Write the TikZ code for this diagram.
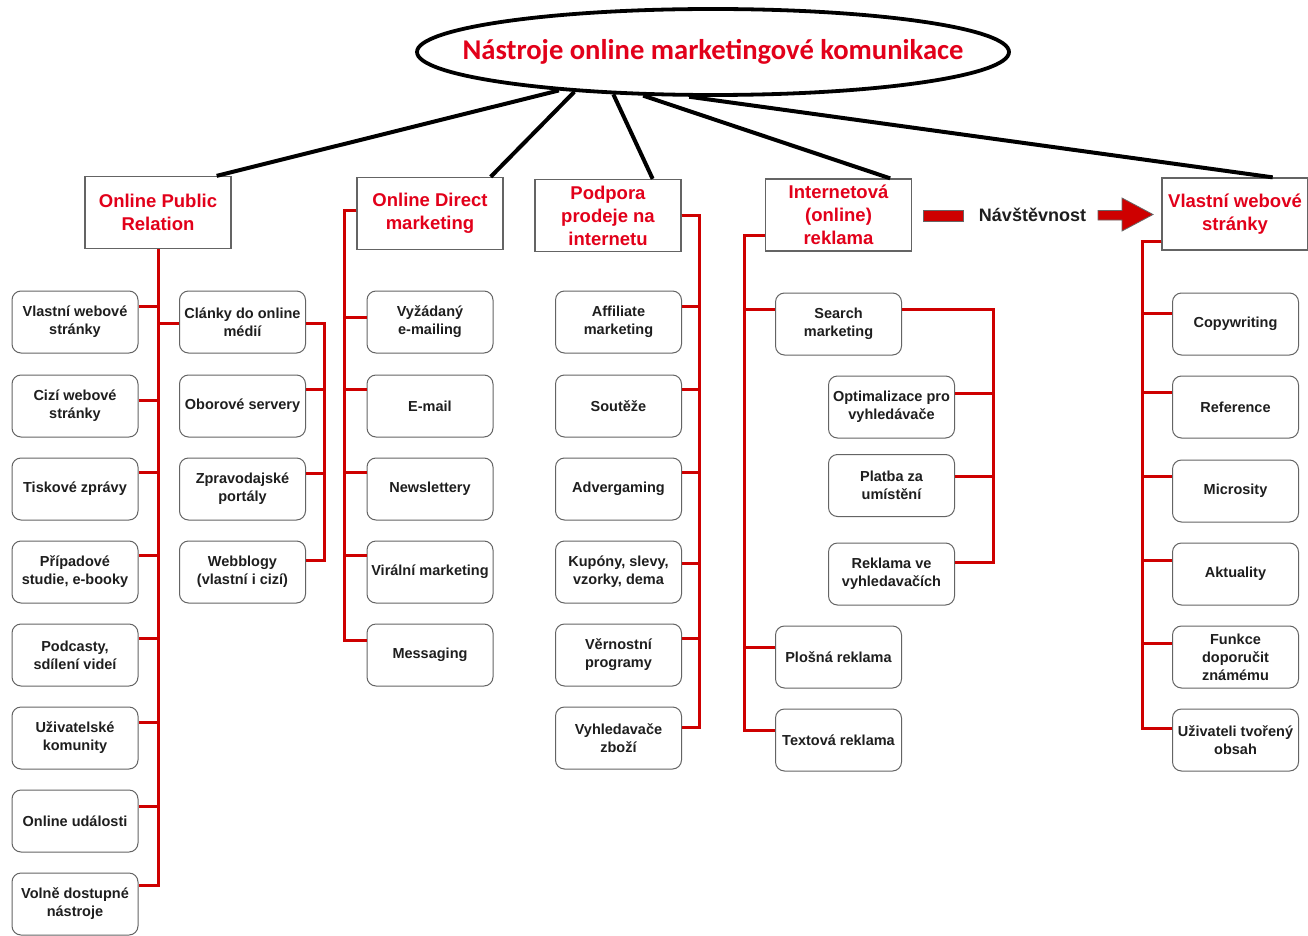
\documentclass[tikz,border=0pt]{standalone}
\usepackage{fontspec}
\setmainfont{Liberation Sans}
\newfontfamily\titlefont{Carlito}
\usetikzlibrary{shapes.geometric,calc}
\definecolor{hred}{RGB}{226,0,26}
\definecolor{lred}{RGB}{206,0,0}
\definecolor{bord}{RGB}{100,100,100}
\definecolor{txt}{RGB}{30,30,30}
\begin{document}
\begin{tikzpicture}[x=1pt,y=-1pt,
  hdr/.style={draw=bord, line width=1.3pt, minimum width=146pt, minimum height=72pt, inner sep=0pt, align=center, text=hred, font=\fontsize{18.5}{23}\selectfont\bfseries},
  item/.style={draw=bord, line width=1pt, rounded corners=9pt, minimum width=126pt, minimum height=62pt, inner sep=1pt, align=center, text=txt, font=\fontsize{14.5}{18}\selectfont\bfseries},
  blk/.style={line width=4pt, black},
  rl/.style={line width=3pt, lred},
  arrowfill/.style={draw=black!60, fill=lred, line width=0.8pt},
]
\useasboundingbox[fill=white] (0,0) rectangle (1308,936);

% title
\node[draw, line width=3.8pt, ellipse, minimum width=592pt, minimum height=86pt, inner sep=0pt, text=hred, font=\titlefont\fontsize{28.6}{30}\selectfont\bfseries] (title) at (713,52) {\makebox[0pt]{Nástroje online marketingové komunikace}};

% headers
\node[hdr] (opr) at (158,212.5) {Online Public\\Relation};
\node[hdr] (odm) at (430,213.5) {Online Direct\\marketing};
\node[hdr] (pp) at (608,215.5) {Podpora\\prodeje na\\internetu};
\node[hdr] (ir) at (838.5,215) {Internetová\\(online)\\reklama};
\node[hdr] (vw) at (1235,214) {Vlastní webové\\stránky};

\draw[blk] (title.194) -- ([xshift=-15pt]opr.north east);
\draw[blk] (title.196) -- ([xshift=-13pt]odm.north east);
\draw[blk] (title.203) -- ([xshift=-29pt]pp.north east);
\draw[blk] (title.212) -- ([xshift=-22pt]ir.north east);
\draw[blk] (title.242) -- ([xshift=-36pt]vw.north east);

% Online Public Relation
\node[item] (a1) at (75,322) {Vlastní webové\\stránky};
\node[item] (a2) at (75,406) {Cizí webové\\stránky};
\node[item] (a3) at (75,489) {Tiskové zprávy};
\node[item] (a4) at (75,572) {Případové\\studie, e-booky};
\node[item] (a5) at (75,655) {Podcasty,\\sdílení videí};
\node[item] (a6) at (75,738) {Uživatelské\\komunity};
\node[item] (a7) at (75,821) {Online události};
\node[item] (a8) at (75,904) {Volně dostupné\\nástroje};
\node[item] (b1) at (242.5,322) {Clánky do online\\médií};
\node[item] (b2) at (242.5,406) {Oborové servery};
\node[item] (b3) at (242.5,489) {Zpravodajské\\portály};
\node[item] (b4) at (242.5,572) {Webblogy\\(vlastní i cizí)};

\draw[rl] (opr.south) |- ([yshift=16pt]a1.east);
\draw[rl] (opr.south) |- ([yshift=6pt]a2.east);
\draw[rl] (opr.south) |- ([yshift=17pt]a3.east);
\draw[rl] (opr.south) |- ([yshift=17pt]a4.east);
\draw[rl] (opr.south) |- ([yshift=17pt]a5.east);
\draw[rl] (opr.south) |- ([yshift=16pt]a6.east);
\draw[rl] (opr.south) |- ([yshift=15pt]a7.east);
\draw[rl] (opr.south) |- ([yshift=19pt]a8.east);
\draw[rl] (opr.south) |- ([yshift=-1pt]b1.west);
\draw[rl] ([yshift=-1pt]b1.east) -- ++(18,0) |- ([yshift=17pt]b2.east);
\draw[rl] ([yshift=-1pt]b1.east) -- ++(18,0) |- ([yshift=16pt]b3.east);
\draw[rl] ([yshift=-1pt]b1.east) -- ++(18,0) |- ([yshift=12pt]b4.east);

% Online Direct marketing
\node[item] (d1) at (430,322) {Vyžádaný\\e-mailing};
\node[item] (d2) at (430,406) {E-mail};
\node[item] (d3) at (430,489) {Newslettery};
\node[item] (d4) at (430,572) {Virální marketing};
\node[item] (d5) at (430,655) {Messaging};
\draw[rl] ([yshift=3pt]odm.west) -- ++(-12,0) |- ([yshift=5pt]d1.west);
\draw[rl] ([yshift=3pt]odm.west) -- ++(-12,0) |- ([yshift=17pt]d2.west);
\draw[rl] ([yshift=3pt]odm.west) -- ++(-12,0) |- ([yshift=17pt]d3.west);
\draw[rl] ([yshift=3pt]odm.west) -- ++(-12,0) |- ([yshift=17pt]d4.west);
\draw[rl] ([yshift=3pt]odm.west) -- ++(-12,0) |- ([yshift=15pt]d5.west);

% Podpora prodeje na internetu
\node[item] (p1) at (618.5,322) {Affiliate\\marketing};
\node[item] (p2) at (618.5,406) {Soutěže};
\node[item] (p3) at (618.5,489) {Advergaming};
\node[item] (p4) at (618.5,572) {Kupóny, slevy,\\vzorky, dema};
\node[item] (p5) at (618.5,655) {Věrnostní\\programy};
\node[item] (p6) at (618.5,738) {Vyhledavače\\zboží};
\draw[rl] (pp.east) -- ++(18,0) |- ([yshift=16pt]p1.east);
\draw[rl] (pp.east) -- ++(18,0) |- ([yshift=17pt]p2.east);
\draw[rl] (pp.east) -- ++(18,0) |- ([yshift=17pt]p3.east);
\draw[rl] (pp.east) -- ++(18,0) |- ([yshift=9pt]p4.east);
\draw[rl] (pp.east) -- ++(18,0) |- ([yshift=17pt]p5.east);
\draw[rl] (pp.east) -- ++(18,0) |- ([yshift=11pt]p6.east);

% Internetova reklama
\node[item] (s1) at (838.5,324) {Search\\marketing};
\node[item] (o1) at (891.5,407) {Optimalizace pro\\vyhledávače};
\node[item] (o2) at (891.5,485.5) {Platba za\\umístění};
\node[item] (o3) at (891.5,574) {Reklama ve\\vyhledavačích};
\node[item] (s2) at (838.5,657) {Plošná reklama};
\node[item] (s3) at (838.5,740) {Textová reklama};
\draw[rl] ([yshift=-20pt]ir.west) -- ++(-20,0) |- ([yshift=15pt]s1.west);
\draw[rl] ([yshift=-20pt]ir.west) -- ++(-20,0) |- ([yshift=10pt]s2.west);
\draw[rl] ([yshift=-20pt]ir.west) -- ++(-20,0) |- ([yshift=10pt]s3.west);
\draw[rl] ([yshift=15pt]s1.east) -- ++(91,0) |- ([yshift=14pt]o1.east);
\draw[rl] ([yshift=15pt]s1.east) -- ++(91,0) |- ([yshift=9pt]o2.east);
\draw[rl] ([yshift=15pt]s1.east) -- ++(91,0) |- ([yshift=12pt]o3.east);

% Vlastni webove stranky
\node[item] (v1) at (1235.5,324) {Copywriting};
\node[item] (v2) at (1235.5,407) {Reference};
\node[item] (v3) at (1235.5,491) {Microsity};
\node[item] (v4) at (1235.5,574) {Aktuality};
\node[item] (v5) at (1235.5,657) {Funkce\\doporučit\\známému};
\node[item] (v6) at (1235.5,740) {Uživateli tvořený\\obsah};
\draw[rl] ([yshift=-27pt]vw.west) -- ++(-19,0) |- ([yshift=11pt]v1.west);
\draw[rl] ([yshift=-27pt]vw.west) -- ++(-19,0) |- ([yshift=15pt]v2.west);
\draw[rl] ([yshift=-27pt]vw.west) -- ++(-19,0) |- ([yshift=15pt]v3.west);
\draw[rl] ([yshift=-27pt]vw.west) -- ++(-19,0) |- ([yshift=14pt]v4.west);
\draw[rl] ([yshift=-27pt]vw.west) -- ++(-19,0) |- ([yshift=14pt]v5.west);
\draw[rl] ([yshift=-27pt]vw.west) -- ++(-19,0) |- ([yshift=12pt]v6.west);

% Navstevnost arrow
\node[arrowfill, minimum width=40pt, minimum height=11pt, inner sep=0pt] (bar) at (943,215.5) {};
\node[font=\fontsize{18}{20}\selectfont\bfseries, text=txt, inner sep=0pt, anchor=base] (nav) at (1032.5,222) {Návštěvnost};
\draw[arrowfill] (1098,210.5) -- (1122,210.5) -- (1122,198) -- (1153,214.5) -- (1122,231) -- (1122,220) -- (1098,220) -- cycle;
\end{tikzpicture}
\end{document}
